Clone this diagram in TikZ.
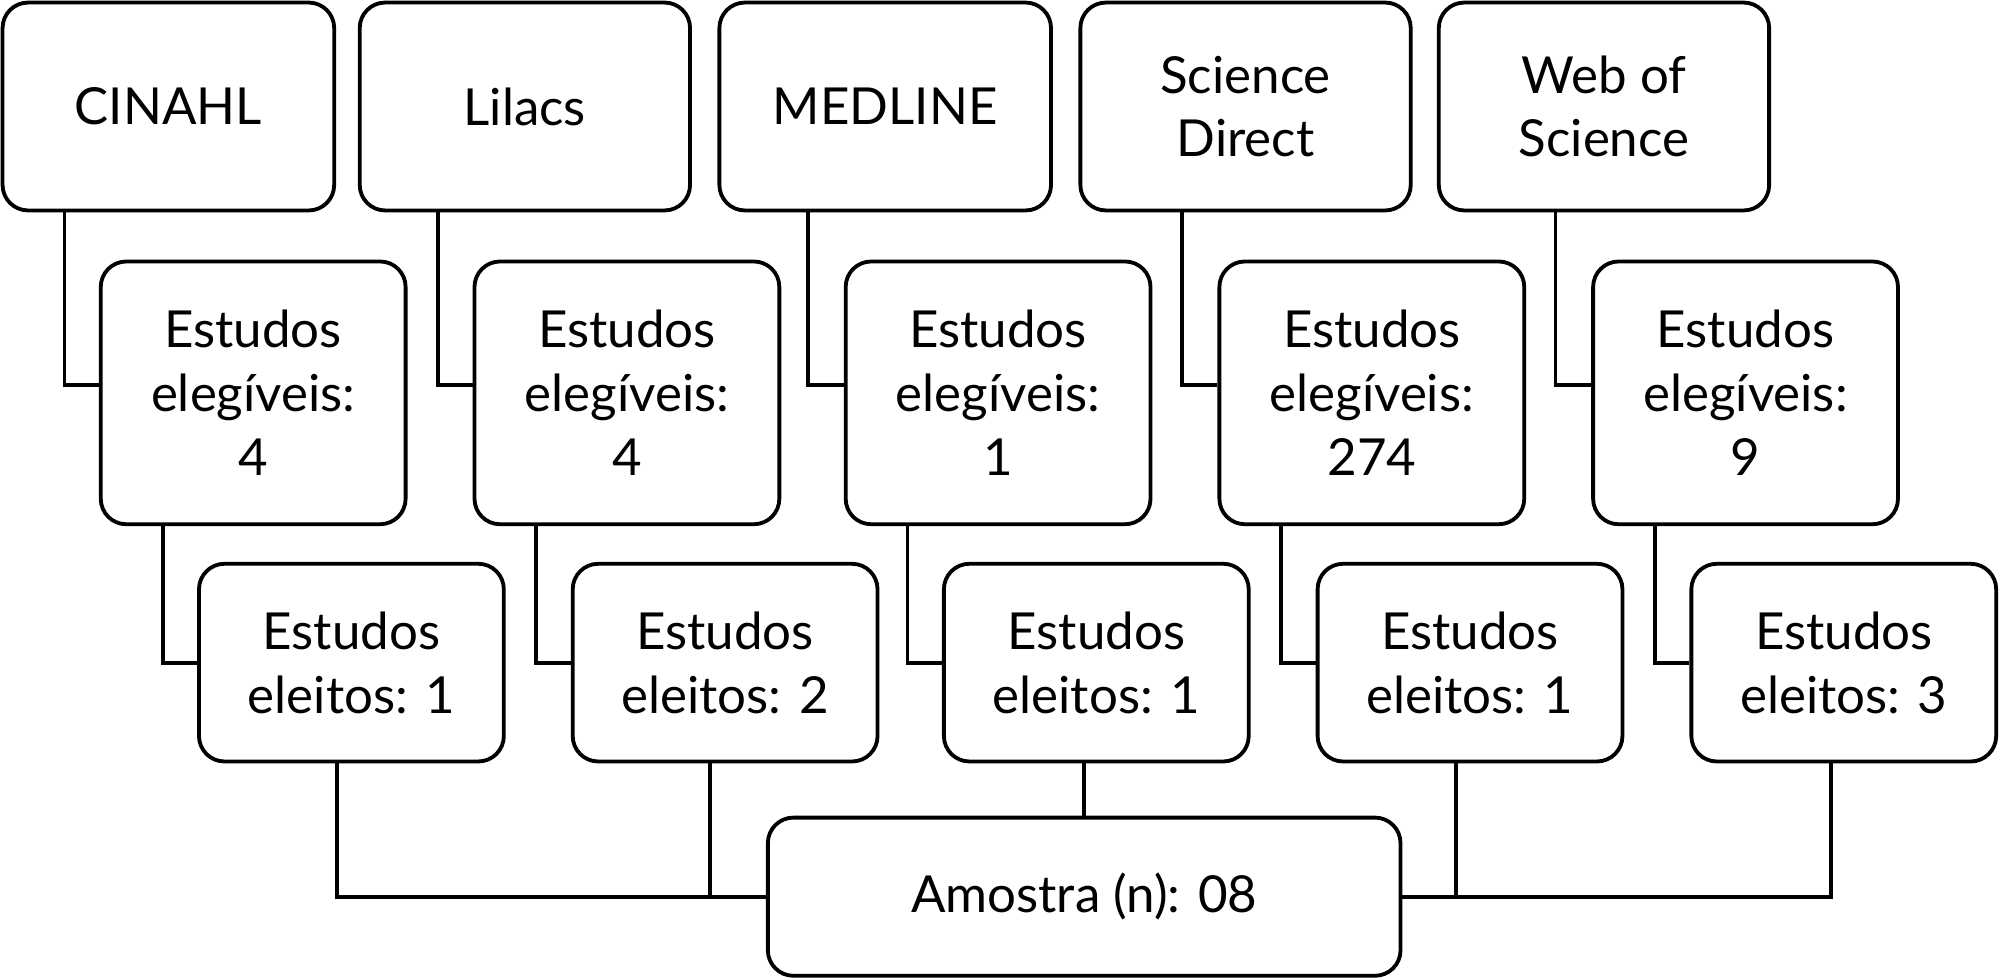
\documentclass[tikz,border=0pt]{standalone}
\usepackage{fontspec}
\setmainfont{Lato}
\begin{document}
\begin{tikzpicture}[x=1pt,y=-1pt,
  bx/.style={draw,line width=3pt,rounded corners=20pt,inner sep=0pt,align=center,
    font=\fontsize{40}{50}\selectfont},
  ln/.style={line width=3pt}]
\useasboundingbox (0,0) rectangle (1568,768);
\newcommand{\bxat}[6]{\node[bx,minimum width=#4-#2,minimum height=#5-#3] (#1) at ({(#2+#4)/2},{(#3+#5)/2}) {#6};}
\bxat{c1}{2}{2}{262}{165}{CINAHL}
\bxat{c2}{282}{2}{541}{165}{Lilacs}
\bxat{c3}{564}{2}{824}{165}{MEDLINE}
\bxat{c4}{847}{2}{1106}{165}{Science\\Direct}
\bxat{c5}{1128}{2}{1387}{165}{Web of\\Science}
\bxat{e1}{79}{205}{318}{411}{Estudos\\eleg\'iveis:\\4}
\bxat{e2}{372}{205}{611}{411}{Estudos\\eleg\'iveis:\\4}
\bxat{e3}{663}{205}{902}{411}{Estudos\\eleg\'iveis:\\1}
\bxat{e4}{956}{205}{1195}{411}{Estudos\\eleg\'iveis:\\274}
\bxat{e5}{1249}{205}{1488}{411}{Estudos\\eleg\'iveis:\\9}
\bxat{s1}{156}{442}{395}{597}{Estudos\\eleitos: 1}
\bxat{s2}{449}{442}{688}{597}{Estudos\\eleitos: 2}
\bxat{s3}{740}{442}{979}{597}{Estudos\\eleitos: 1}
\bxat{s4}{1033}{442}{1272}{597}{Estudos\\eleitos: 1}
\bxat{s5}{1326}{442}{1565}{597}{Estudos\\eleitos: 3}
\bxat{a}{602}{641}{1098}{765}{Amostra (n): 08}
\foreach \i/\o in {1/50,2/63,3/71,4/81,5/93}{
  \draw[ln] ([xshift=\o pt]c\i.south west) |- ([yshift=6pt]e\i.west);
  \draw[ln] ([xshift=50pt]e\i.south west) |- (s\i.west);
}
\draw[ln] ([xshift=110pt]s1.south west) |- (a.west);
\draw[ln] ([xshift=109pt]s2.south west) -- ([xshift=109pt]s2.south west |- a.west);
\draw[ln] (a.north |- s3.south) -- (a.north);
\draw[ln] ([xshift=110pt]s4.south west) -- ([xshift=110pt]s4.south west |- a.east);
\draw[ln] ([xshift=111pt]s5.south west) |- (a.east);
\end{tikzpicture}
\end{document}
